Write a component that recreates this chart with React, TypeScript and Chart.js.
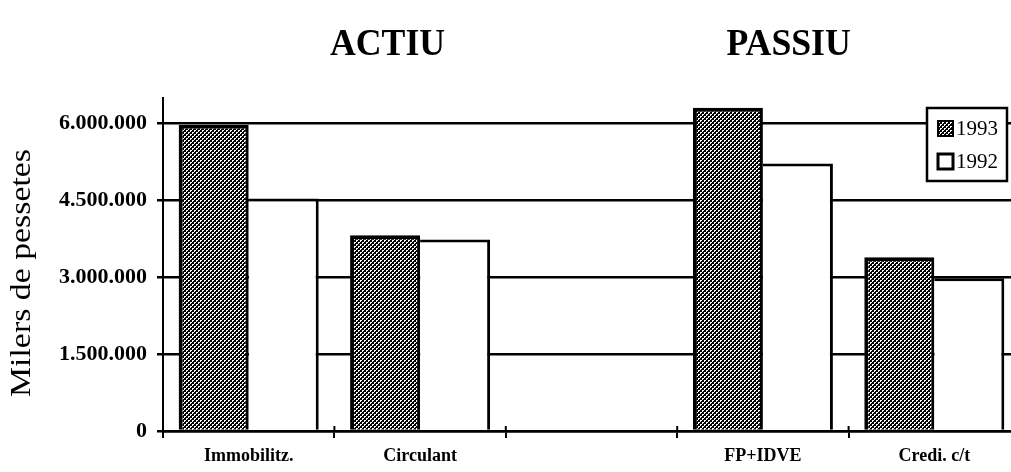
import React, { useEffect, useRef } from "react";
import { Chart, registerables } from "chart.js";

Chart.register(...registerables);

const categories = ["Immobilitz.", "Circulant", "", "FP+IDVE", "Credi. c/t"];
const series1993 = [5980000, 3820000, null, 6310000, 3390000];
const series1992 = [4540000, 3740000, null, 5220000, 2980000];
const seriesNames = ["1993", "1992"];
const yTicks = [0, 1500000, 3000000, 4500000, 6000000];
const groupTitles = ["ACTIU", "PASSIU"];
const yTitle = "Milers de pessetes";

const SERIF = '"Liberation Serif", "Times New Roman", serif';

function makePattern(): CanvasPattern | string {
  const c = document.createElement("canvas");
  c.width = 4;
  c.height = 4;
  const g = c.getContext("2d");
  if (!g) return "#444";
  g.fillStyle = "#000";
  g.fillRect(0, 0, 4, 4);
  g.fillStyle = "#fff";
  g.fillRect(0, 0, 2, 1);
  g.fillRect(0, 1, 1, 1);
  g.fillRect(2, 2, 2, 1);
  g.fillRect(2, 3, 1, 1);
  const p = g.createPattern(c, "repeat");
  return p || "#444";
}

function fmt(v: number): string {
  return String(Math.round(v)).replace(/\B(?=(\d{3})+(?!\d))/g, ".");
}

export default function App() {
  const ref = useRef<HTMLCanvasElement | null>(null);

  useEffect(() => {
    const canvas = ref.current;
    if (!canvas) return;
    const pattern = makePattern();

    const decor = {
      id: "decor",
      afterDatasetsDraw(chart: any) {
        const ctx = chart.ctx;
        const xs = chart.scales.x;
        const area = chart.chartArea;
        ctx.save();
        ctx.strokeStyle = "#000";
        ctx.lineWidth = 2;
        for (let i = 0; i <= categories.length; i++) {
          const px = xs.getPixelForValue(i - 0.5);
          ctx.beginPath();
          ctx.moveTo(px, area.bottom - 5);
          ctx.lineTo(px, area.bottom);
          ctx.stroke();
        }
        ctx.beginPath();
        ctx.moveTo(area.left, area.bottom);
        ctx.lineTo(area.left, area.bottom + 7);
        ctx.stroke();
        ctx.restore();
      },
      afterDraw(chart: any) {
        const ctx = chart.ctx;
        const xs = chart.scales.x;
        ctx.save();
        ctx.fillStyle = "#000";
        ctx.font = `bold 38px ${SERIF}`;
        ctx.textAlign = "center";
        ctx.textBaseline = "alphabetic";
        const titlePos = [xs.getPixelForValue(0.81), xs.getPixelForValue(3.15)];
        groupTitles.forEach((t, i) => {
          ctx.save();
          ctx.translate(titlePos[i], 55);
          ctx.scale(0.94, 1);
          ctx.fillText(t, 0, 0);
          ctx.restore();
        });
        ctx.save();
        ctx.font = `29px ${SERIF}`;
        const w = ctx.measureText(yTitle).width;
        ctx.translate(30, 273);
        ctx.rotate(-Math.PI / 2);
        ctx.scale(248 / w, 1);
        ctx.textAlign = "center";
        ctx.fillText(yTitle, 0, 0);
        ctx.restore();
        const lx = 927, ly = 108, lw = 80, lh = 73;
        ctx.fillStyle = "#fff";
        ctx.fillRect(lx, ly, lw, lh);
        ctx.strokeStyle = "#000";
        ctx.lineWidth = 2.5;
        ctx.strokeRect(lx, ly, lw, lh);
        const fills = [pattern, "#fff"];
        const sy = [121, 154];
        seriesNames.forEach((n, i) => {
          ctx.fillStyle = fills[i] as any;
          ctx.fillRect(938, sy[i], 15, 15);
          ctx.lineWidth = i === 0 ? 2 : 3;
          ctx.strokeStyle = "#000";
          ctx.strokeRect(938, sy[i], 15, 15);
          ctx.fillStyle = "#000";
          ctx.font = `21px ${SERIF}`;
          ctx.textAlign = "left";
          ctx.textBaseline = "middle";
          ctx.fillText(n, 956, sy[i] + 8);
        });
        ctx.restore();
      },
    };

    const chart = new Chart(canvas, {
      type: "bar",
      data: {
        labels: categories,
        datasets: [
          {
            label: seriesNames[0],
            data: series1993,
            backgroundColor: pattern as any,
            borderColor: "#000",
            borderWidth: { top: 4, left: 4, right: 3, bottom: 0 } as any,
            borderSkipped: false,
            categoryPercentage: 0.817,
            barPercentage: 1,
          },
          {
            label: seriesNames[1],
            data: series1992,
            backgroundColor: "#fff",
            borderColor: "#000",
            borderWidth: { top: 3, left: 0, right: 3, bottom: 0 } as any,
            borderSkipped: false,
            categoryPercentage: 0.817,
            barPercentage: 1,
          },
        ],
      },
      options: {
        responsive: false,
        animation: false,
        devicePixelRatio: 1,
        layout: { padding: { left: 0, top: 98, right: 20, bottom: 0 } },
        plugins: {
          legend: { display: false },
          tooltip: { enabled: false },
          title: { display: false },
        },
        scales: {
          x: {
            afterFit: (s: any) => {
              s.height = 41;
            },
            grid: {
              display: true,
              drawOnChartArea: false,
              drawTicks: true,
              tickLength: 7,
              color: "#000",
              lineWidth: 2,
              offset: true,
            },
            border: { display: true, color: "#000", width: 2.5 },
            ticks: {
              font: { family: SERIF, size: 18, weight: "bold" },
              color: "#000",
              padding: 8,
              maxRotation: 0,
              autoSkip: false,
            },
          },
          y: {
            min: 0,
            max: 6500000,
            afterFit: (s: any) => {
              s.width = 163;
            },
            afterBuildTicks: (s: any) => {
              s.ticks = yTicks.map((v) => ({ value: v }));
            },
            grid: {
              color: "#000",
              lineWidth: 2.5,
              drawTicks: true,
              tickLength: 6,
            },
            border: { display: true, color: "#000", width: 2 },
            ticks: {
              font: { family: SERIF, size: 22, weight: "bold" },
              color: "#000",
              padding: 10,
              callback: (v: any) => fmt(Number(v)),
            },
          },
        },
      },
      plugins: [decor],
    } as any);

    return () => {
      chart.destroy();
    };
  }, []);

  return (
    <div
      style={{
        position: "fixed",
        left: 0,
        top: 0,
        width: 1011,
        height: 472,
        overflow: "hidden",
        background: "#fff",
      }}
    >
      <canvas ref={ref} width={1040} height={472} style={{ display: "block" }} />
    </div>
  );
}
